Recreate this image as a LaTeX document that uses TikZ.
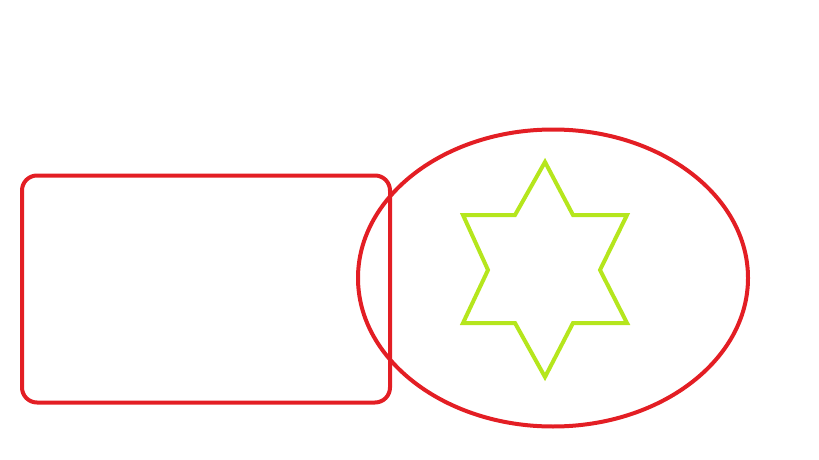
\documentclass[tikz,border=0pt]{standalone}
\usetikzlibrary{shapes.geometric}
\begin{document}
\begin{tikzpicture}[x=1pt,y=-1pt,
  redline/.style={draw={rgb,255:red,227;green,30;blue,36}, line width=4pt},
  greenline/.style={draw={rgb,255:red,181;green,230;blue,29}, line width=4pt, line join=miter}]
\useasboundingbox (0,0) rectangle (819,460);
\node[redline, rounded corners=15pt, minimum width=368pt, minimum height=227pt, inner sep=0pt] (rect) at (206,289) {};
\node[redline, ellipse, minimum width=390pt, minimum height=297pt, inner sep=0pt] (ell) at (553,278) {};
\path[greenline] (545,162) -- (573,215) -- (627,215) -- (600,270) -- (627,323) -- (573,323) -- (545,377) -- (515,323) -- (463,323) -- (488,270) -- (463,215) -- (515,215) -- cycle;
\end{tikzpicture}
\end{document}
